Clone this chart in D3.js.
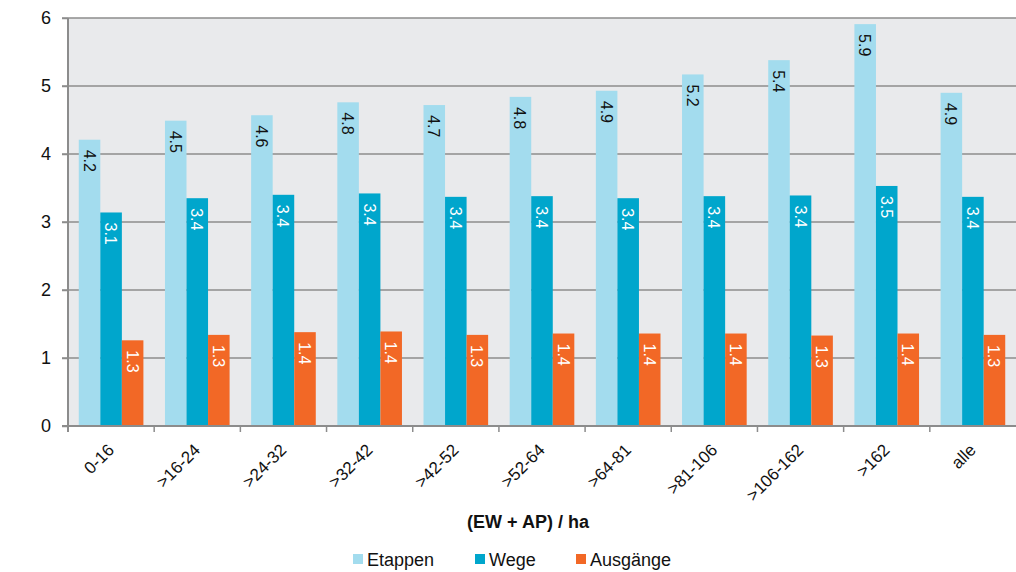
<!DOCTYPE html>
<html>
<head>
<meta charset="utf-8">
<script src="https://cdn.jsdelivr.net/npm/d3@7"></script>
<style>
  body { margin: 0; background: #fff; }
  svg { font-family: "Liberation Sans", Arial, sans-serif; display: block; }
</style>
</head>
<body>
<svg id="chart" width="1016" height="572"></svg>
<script>
const categories = ["0-16", ">16-24", ">24-32", ">32-42", ">42-52", ">52-64", ">64-81", ">81-106", ">106-162", ">162", "alle"];
const etappen = [4.21, 4.49, 4.57, 4.76, 4.72, 4.84, 4.93, 5.17, 5.38, 5.91, 4.9];
const wege = [3.14, 3.35, 3.4, 3.42, 3.37, 3.38, 3.35, 3.38, 3.39, 3.53, 3.37];
const ausgaenge = [1.26, 1.34, 1.38, 1.39, 1.34, 1.36, 1.36, 1.36, 1.33, 1.36, 1.34];
const seriesNames = ["Etappen", "Wege", "Ausgänge"];
const colors = ["#a3dcee", "#00a6cc", "#f26826"];
const labelColors = ["#111", "#fff", "#fff"];
const yTicks = [0, 1, 2, 3, 4, 5, 6];

const svg = d3.select("#chart");
const plotL = 68, plotR = 1016, plotT = 18, plotB = 426;

const x = d3.scaleBand().domain(categories).range([plotL, plotR]).paddingInner(0).paddingOuter(0);
const xi = d3.scaleBand().domain(seriesNames).range([0, x.bandwidth()]).paddingInner(0).paddingOuter(0.5);
const y = d3.scaleLinear().domain([0, 6]).range([plotB, plotT]);

svg.append("rect").attr("x", plotL).attr("y", plotT).attr("width", plotR - plotL).attr("height", plotB - plotT).attr("fill", "#e9eaec");

// gridlines
svg.append("g").selectAll("line").data(yTicks.filter((d) => d > 0)).join("line")
  .attr("x1", plotL - 6).attr("x2", plotR).attr("y1", (d) => y(d)).attr("y2", (d) => y(d))
  .attr("stroke", "#8c8c8c").attr("stroke-width", 1.5);

const rows = categories.map((c, i) => ({ cat: c, vals: [etappen[i], wege[i], ausgaenge[i]] }));

const groups = svg.append("g").selectAll("g").data(rows).join("g")
  .attr("transform", (d) => `translate(${x(d.cat)},0)`);

groups.selectAll("rect").data((d) => d.vals.map((v, k) => ({ v, k }))).join("rect")
  .attr("x", (d) => xi(seriesNames[d.k]))
  .attr("width", xi.bandwidth())
  .attr("y", (d) => y(d.v))
  .attr("height", (d) => y(0) - y(d.v))
  .attr("fill", (d) => colors[d.k]);

groups.selectAll("text").data((d) => d.vals.map((v, k) => ({ v, k }))).join("text")
  .attr("transform", (d) => `translate(${xi(seriesNames[d.k]) + xi.bandwidth() / 2 - 6},${y(d.v) + 10}) rotate(90)`)
  .attr("font-size", 16)
  .attr("fill", (d) => labelColors[d.k])
  .text((d) => d3.format(".1f")(d.v));

// y axis
const yAxis = svg.append("g").attr("transform", `translate(${plotL},0)`)
  .call(d3.axisLeft(y).tickValues(yTicks).tickSize(6).tickPadding(11).tickFormat(d3.format("d")));
yAxis.select(".domain").remove();
yAxis.selectAll("line").attr("stroke", "#8c8c8c").attr("stroke-width", 1.5);
yAxis.selectAll("text").attr("font-size", 18).attr("fill", "#111").attr("font-family", "Liberation Sans, Arial, sans-serif");
svg.append("line").attr("x1", plotL).attr("x2", plotL).attr("y1", plotT).attr("y2", plotB + 6)
  .attr("stroke", "#8c8c8c").attr("stroke-width", 2);

// x axis
svg.append("line").attr("x1", plotL - 6).attr("x2", plotR).attr("y1", plotB).attr("y2", plotB)
  .attr("stroke", "#8c8c8c").attr("stroke-width", 2);
svg.append("g").selectAll("line").data(categories).join("line")
  .attr("x1", (d) => x(d)).attr("x2", (d) => x(d)).attr("y1", plotB).attr("y2", plotB + 6)
  .attr("stroke", "#8c8c8c").attr("stroke-width", 1.5);
svg.append("g").selectAll("text").data(categories).join("text")
  .attr("transform", (d) => `translate(${x(d) + x.bandwidth() / 2 + 4},${plotB + 25}) rotate(-45)`)
  .attr("text-anchor", "end")
  .attr("font-size", 17)
  .attr("fill", "#111")
  .text((d) => d);

svg.append("text").attr("x", 528).attr("y", 528).attr("text-anchor", "middle")
  .attr("font-size", 18).attr("font-weight", "bold").attr("fill", "#111").text("(EW + AP) / ha");

// legend
const legendX = [353, 475, 576];
const legend = svg.append("g").selectAll("g").data(seriesNames).join("g")
  .attr("transform", (d, i) => `translate(${legendX[i]},559)`);
legend.append("rect").attr("x", 0).attr("y", -5).attr("width", 10).attr("height", 10).attr("fill", (d, i) => colors[i]);
legend.append("text").attr("x", 14).attr("y", 7).attr("font-size", 18).attr("fill", "#111").text((d) => d);
</script>
</body>
</html>
